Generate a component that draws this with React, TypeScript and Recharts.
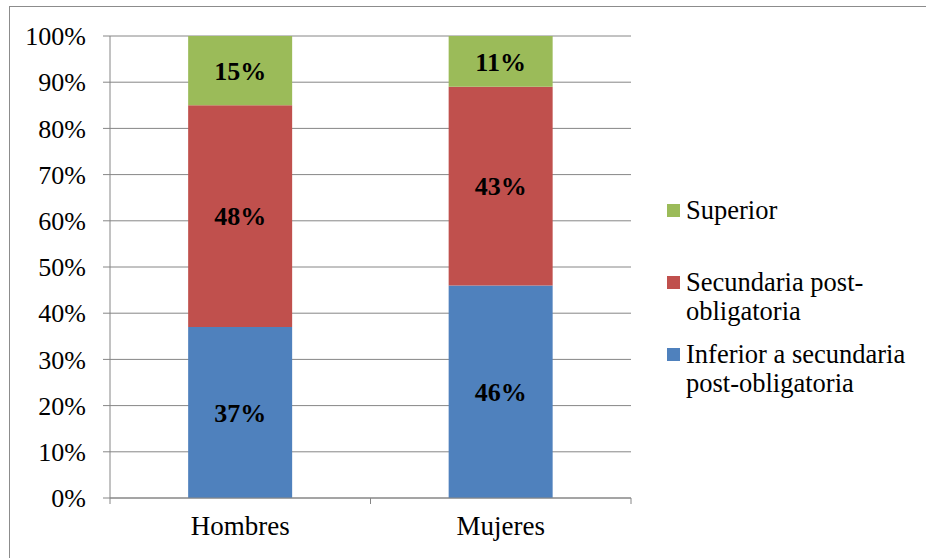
import React from 'react';
import { BarChart, Bar, XAxis, YAxis, CartesianGrid, LabelList } from 'recharts';

// Nivel educativo por sexo (porcentaje)
const categories = ['Hombres', 'Mujeres'];
const inferior = [37, 46];
const secundaria = [48, 43];
const superior = [15, 11];
const yTicks = [0, 10, 20, 30, 40, 50, 60, 70, 80, 90, 100];

const series = [
  { key: 'inferior', name: 'Inferior a secundaria post-obligatoria', color: '#4F81BD' },
  { key: 'secundaria', name: 'Secundaria post-obligatoria', color: '#C0504D' },
  { key: 'superior', name: 'Superior', color: '#9BBB59' },
];

const data = categories.map((name, i) => ({
  name,
  inferior: inferior[i],
  secundaria: secundaria[i],
  superior: superior[i],
}));

const FONT = '"Liberation Serif", "Times New Roman", serif';
const GRID = '#868686';

const CategoryTick = (props: any) => {
  const { x, y, payload } = props;
  const half = payload && payload.offset ? payload.offset : 130;
  const axisY = y - 8;
  return (
    <g>
      <line x1={x - half} x2={x - half} y1={axisY} y2={axisY + 6} stroke={GRID} />
      <line x1={x + half} x2={x + half} y1={axisY} y2={axisY + 6} stroke={GRID} />
      <text x={x} y={axisY + 37} textAnchor="middle" fill="#000" fontSize={27} fontFamily={FONT}>
        {payload.value}
      </text>
    </g>
  );
};

export default function App() {
  return (
    <div style={{ position: 'absolute', left: 0, top: 0, width: 926, height: 558, overflow: 'hidden', background: '#fff' }}>
      <div
        style={{
          position: 'absolute',
          left: 9,
          top: 6,
          width: 940,
          height: 580,
          border: '1.5px solid #8c8c8c',
        }}
      />
      <div style={{ position: 'absolute', left: 0, top: 0 }}>
        <BarChart
          width={926}
          height={558}
          data={data}
          margin={{ top: 36, right: 295, bottom: 20, left: 10 }}
          barCategoryGap="30%"
        >
          <CartesianGrid vertical={false} stroke={GRID} />
          <XAxis
            dataKey="name"
            height={40}
            axisLine={{ stroke: GRID }}
            tickLine={false}
            tickSize={6}
            tickMargin={2}
            tick={<CategoryTick />}
            interval={0}
          />
          <YAxis
            width={100}
            domain={[0, 100]}
            ticks={yTicks}
            interval={0}
            axisLine={{ stroke: GRID }}
            tickLine={{ stroke: GRID }}
            tickSize={7}
            tickMargin={17}
            tickFormatter={(v: number) => v + '%'}
            tick={{ fill: '#000', fontSize: 26, fontFamily: FONT }}
          />
          {series.map((s) => (
            <Bar key={s.key} dataKey={s.key} name={s.name} stackId="a" fill={s.color} isAnimationActive={false}>
              <LabelList
                dataKey={s.key}
                position="center"
                formatter={(v: any) => v + '%'}
                fill="#000"
                fontSize={26}
                fontWeight="bold"
                fontFamily={FONT}
              />
            </Bar>
          ))}
        </BarChart>
      </div>
      <div style={{ position: 'absolute', left: 667, top: 196, fontFamily: FONT, fontSize: 26.5, color: '#000' }}>
        {[...series].reverse().map((s) => (
          <div key={s.key} style={{ height: 72, display: 'flex', alignItems: 'flex-start' }}>
            <div style={{ width: 13, height: 13, background: s.color, marginTop: 8, marginRight: 6, flexShrink: 0 }} />
            <div style={{ width: 236, lineHeight: '29px' }}>{s.name}</div>
          </div>
        ))}
      </div>
    </div>
  );
}
